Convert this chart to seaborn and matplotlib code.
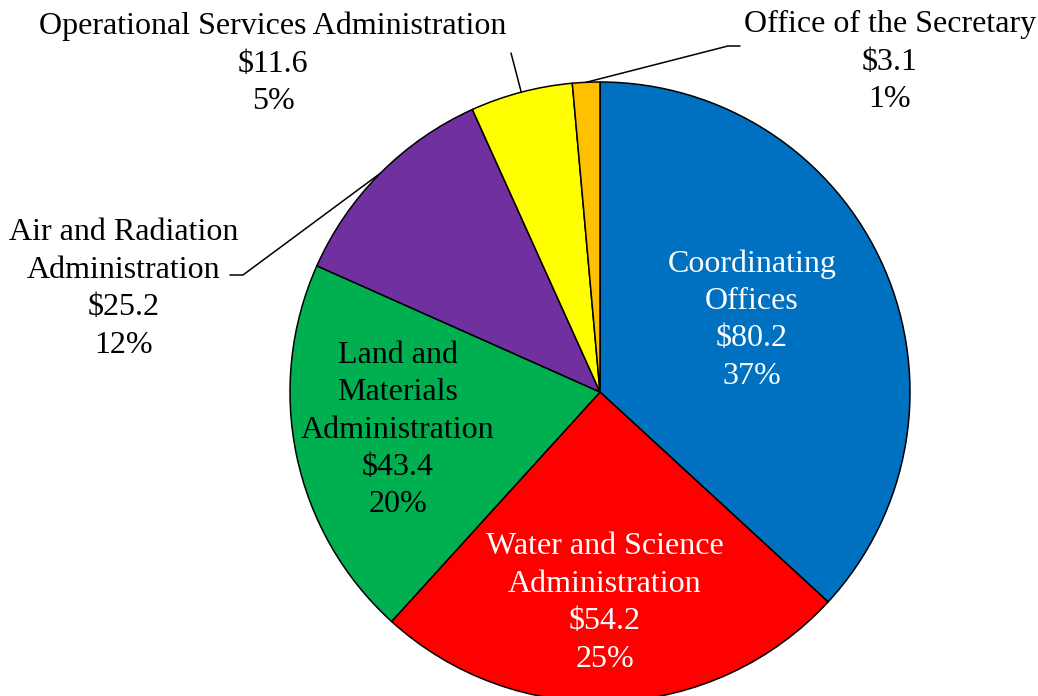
import numpy as np
import matplotlib
matplotlib.use("Agg")
import matplotlib.pyplot as plt
import seaborn as sns

# Budget by office
offices = ["Coordinating\nOffices", "Water and Science\nAdministration",
           "Land and\nMaterials\nAdministration", "Air and Radiation\nAdministration",
           "Operational Services Administration", "Office of the Secretary"]
amounts = [80.2, 54.2, 43.4, 25.2, 11.6, 3.1]
colors = ["#0070C0", "#FF0000", "#00B050", "#7030A0", "#FFFF00", "#FFC000"]

sns.set_style("white")
plt.rcParams["font.family"] = ["Liberation Serif", "DejaVu Serif"]

W, H = 1038, 696
fig = plt.figure(figsize=(W / 100, H / 100), dpi=100)
ax = fig.add_axes([0, 0, 1, 1])

cx, cy, r = 600, H - 392, 310
wedges, _ = ax.pie(amounts, colors=colors, startangle=90, counterclock=False,
                   center=(cx, cy), radius=r, frame=True,
                   wedgeprops=dict(edgecolor="black", linewidth=1.1))
ax.set_xlim(0, W)
ax.set_ylim(0, H)
ax.set_aspect("equal")
ax.axis("off")

total = sum(amounts)
labels = ["{}\n${:.1f}\n{:.0f}%".format(o, a, 100 * a / total) for o, a in zip(offices, amounts)]

# label centers (pixels from top-left) and text colours
label_pos = [(752, 320), (605, 603), (398, 430), (124, 289), (273, 64), (890, 62)]
text_colors = ["white", "white", "black", "black", "black", "black"]
for lab, (x, y), c in zip(labels, label_pos, text_colors):
    ax.text(x, H - y, lab, ha="center", va="center", multialignment="center",
            fontsize=23, color=c, linespacing=1.38)

# leader lines for outside labels
def edge_point(w):
    ang = np.deg2rad((w.theta1 + w.theta2) / 2)
    return cx + r * np.cos(ang), cy + r * np.sin(ang)

ex, ey = edge_point(wedges[3])
ax.plot([230, 243, ex], [H - 275, H - 275, ey], color="black", lw=1.1)
ex, ey = edge_point(wedges[4])
ax.plot([511, ex], [H - 53, ey], color="black", lw=1.1)
ex, ey = edge_point(wedges[5])
ax.plot([740, 728, ex], [H - 46, H - 46, ey], color="black", lw=1.1)

fig.savefig("out.png", dpi=100)
